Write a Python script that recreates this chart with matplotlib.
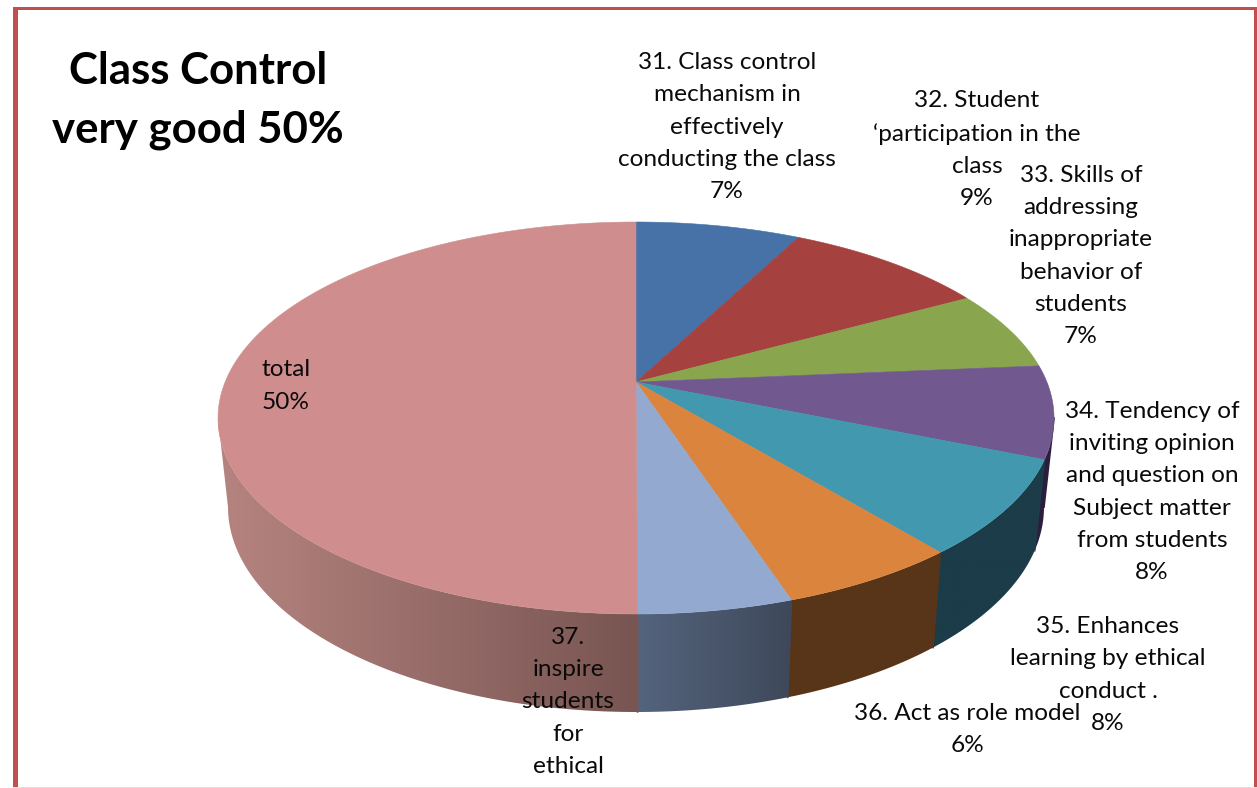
import numpy as np
import matplotlib
matplotlib.use("Agg")
import matplotlib.pyplot as plt
from matplotlib.patches import Polygon

plt.rcParams["font.family"] = ["Lato", "DejaVu Sans"]

# slice shares in percent, clockwise from the top
values = [7.6, 9.4, 6.6, 7.6, 7.8, 5.9, 5.0, 50.0]
top_colors = ["#4672A7", "#A5423F", "#89A54E", "#71588F", "#4198AF", "#DB843D", "#93A9CF", "#CF8E8D"]
side_left = [(70, 114, 167), (100, 40, 38), (80, 100, 45), (44, 30, 62), (27, 60, 72), (88, 53, 24), (84, 100, 125), (182, 132, 128)]
side_right = [(70, 114, 167), (100, 40, 38), (80, 100, 45), (44, 30, 62), (27, 60, 72), (88, 53, 24), (62, 72, 90), (120, 85, 82)]

label_texts = [
    "31. Class control\nmechanism in\neffectively\nconducting the class\n7%",
    "32. Student\n‘participation in the\nclass\n9%",
    "33. Skills of\naddressing\ninappropriate\nbehavior of\nstudents\n7%",
    "34. Tendency of\ninviting opinion\nand question on\nSubject matter\nfrom students\n8%",
    "35. Enhances\nlearning by ethical\nconduct .\n8%",
    "36. Act as role model\n6%",
    "37.\ninspire\nstudents\nfor\nethical",
    "total\n50%",
]
label_x = [727, 977, 1081, 1152, 1108, 967, 568, 286]
label_y = [127, 149.5, 256, 492, 675, 729.5, 702, 386]

title_lines = ["Class Control", "very good 50%"]

# pie geometry in pixels (the tilt moves the apex off the ellipse centre)
cx, cy_top, rx_top, ry_top = 636, 418, 418, 196
cy_bot, rx_bot, ry_bot = 507, 408, 205
tilt = 36 / 196


def rim(theta, cy, rx, ry):
    u, v = np.sin(theta), np.cos(theta)
    d = 1 + tilt * v
    X = u * np.sqrt(1 - tilt ** 2) / d
    Y = (v + tilt) / d
    return cx + rx * X, cy - ry * Y, Y


fig = plt.figure(figsize=(12.57, 7.88), dpi=100)
ax = fig.add_axes([0, 0, 1, 1])
ax.axis("off")

edges = np.cumsum([0] + values) / sum(values) * 2 * np.pi
apex = (cx, cy_top - tilt * ry_top)

# side wall first, only the part facing the viewer, shaded left to right
for i in range(len(values)):
    th = np.linspace(edges[i], edges[i + 1], 300)
    xt, yt, Yt = rim(th, cy_top, rx_top, ry_top)
    xb, yb, _ = rim(th, cy_bot, rx_bot, ry_bot)
    keep = Yt <= 0
    if not keep.any():
        continue
    pts = list(zip(xt[keep], yt[keep])) + list(zip(xb[keep][::-1], yb[keep][::-1]))
    outline = np.array(pts)
    x0, x1 = outline[:, 0].min(), outline[:, 0].max()
    y0, y1 = outline[:, 1].min(), outline[:, 1].max()
    f = np.linspace(0, 1, 256)[:, None]
    grad = (np.array(side_left[i]) * (1 - f) + np.array(side_right[i]) * f) / 255
    im = ax.imshow(grad[None, :, :], extent=(x0, x1, y1, y0), aspect="auto", interpolation="bilinear", zorder=1)
    clip = Polygon(pts, closed=True, transform=ax.transData, facecolor="none", edgecolor="none")
    ax.add_patch(clip)
    im.set_clip_path(clip)
    # cover the light seam at the slice's right hand edge
    ax.plot([xt[keep][0], xb[keep][0]], [yt[keep][0], yb[keep][0]], color=grad[-1], lw=1.2, zorder=1.5)

# top face
for i in range(len(values)):
    th = np.linspace(edges[i], edges[i + 1], 120)
    xt, yt, _ = rim(th, cy_top, rx_top, ry_top)
    pts = [apex] + list(zip(xt, yt))
    ax.add_patch(Polygon(pts, closed=True, facecolor=top_colors[i], edgecolor=top_colors[i], lw=0.4, zorder=2))

for txt, x, y in zip(label_texts, label_x, label_y):
    ax.text(x, y, txt, ha="center", va="center", fontsize=17.6, linespacing=1.67, color="#0a0a0a", multialignment="center", zorder=3)

ax.text(198, 71, title_lines[0], ha="center", va="center", fontsize=31.5, fontweight="bold", color="black", zorder=3)
ax.text(198, 130, title_lines[1], ha="center", va="center", fontsize=31.5, fontweight="bold", color="black", zorder=3)

# page frame
frame = "#C0504D"
ax.fill_between([13, 17.5], 7, 788, color=frame, lw=0, zorder=4)
ax.fill_between([13, 1257], 7, 10, color=frame, lw=0, zorder=4)
ax.fill_between([1254, 1257], 7, 788, color=frame, lw=0, zorder=4)
ax.fill_between([13, 1257], 787, 788, color="#F2DCDB", lw=0, zorder=4)

ax.set_xlim(0, 1257)
ax.set_ylim(788, 0)

fig.savefig("out.png", dpi=100)
